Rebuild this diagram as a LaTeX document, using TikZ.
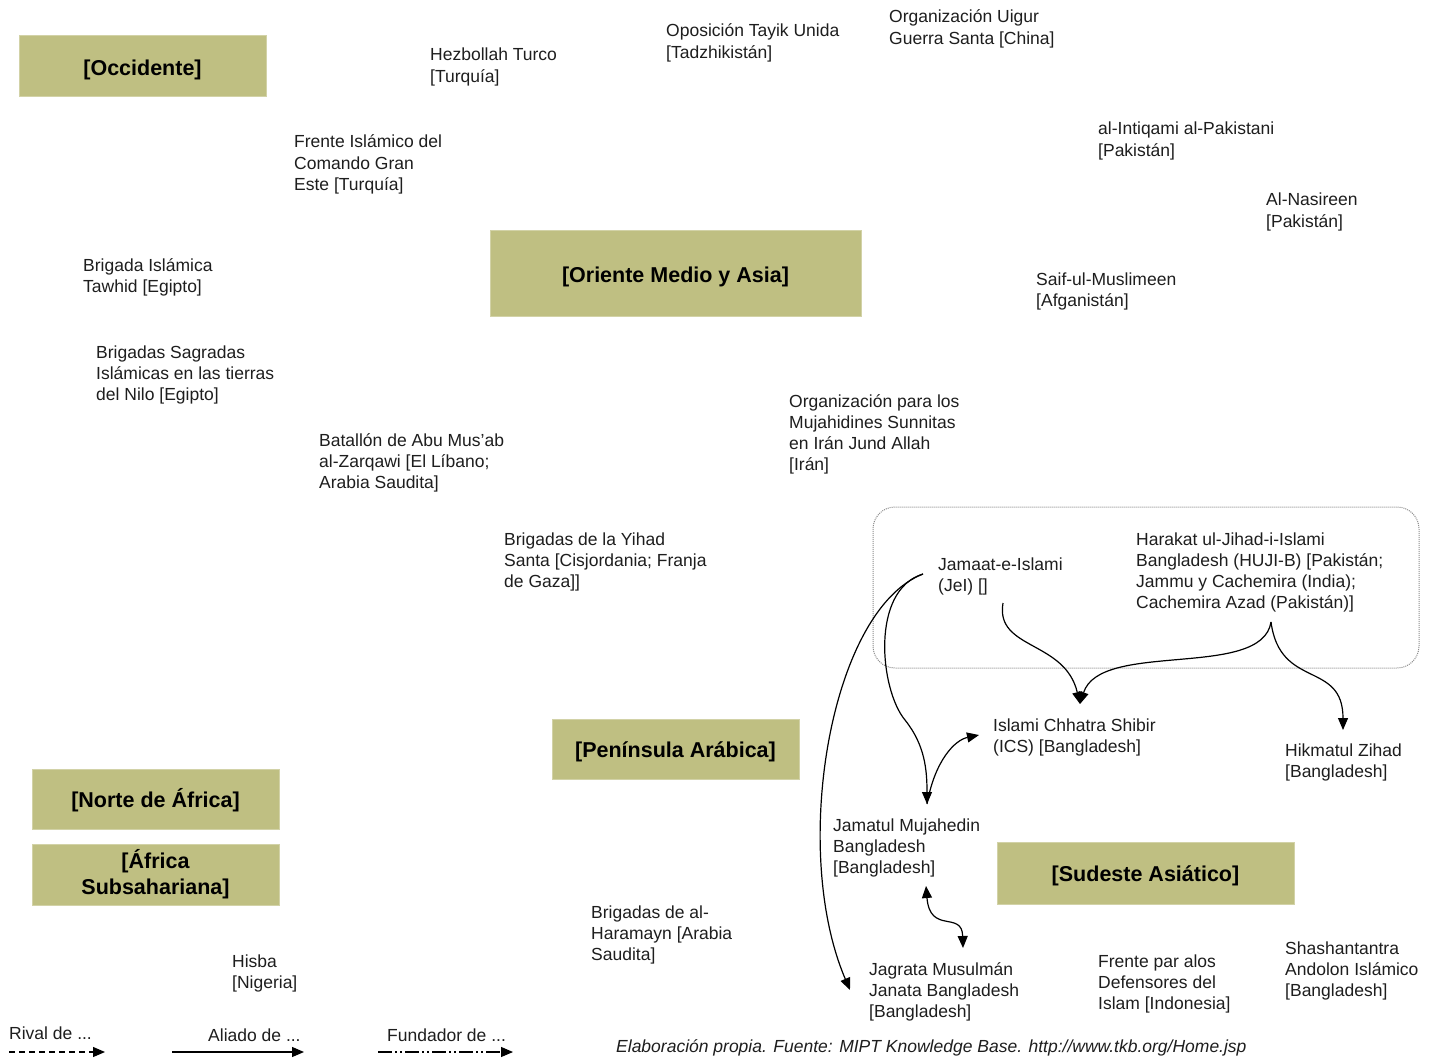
\documentclass[tikz,border=0pt]{standalone}
\usepackage{fontspec}
\setmainfont{Liberation Sans}
\usetikzlibrary{arrows.meta}
\definecolor{boxc}{RGB}{191,191,130}
\definecolor{txt}{RGB}{30,30,30}
\newcommand{\lowerby}[2]{\raisebox{-#1}[\height][\depth]{#2}}
\tikzset{
  region/.style={fill=boxc, draw=boxc!70!white, line width=1pt, font=\fontsize{21.5}{26}\selectfont\bfseries, text=black, align=center, inner sep=0},
  lbl/.style={anchor=base west, inner sep=0, align=left, font=\fontsize{17.5}{21.3}\selectfont, text=txt},
  ally/.style={line width=1.2pt, -{Triangle[length=12pt,width=10pt]}},
  rival/.style={line width=1.2pt, dashed, dash pattern=on 6pt off 4pt, -{Triangle[length=12pt,width=10pt]}},
  founder/.style={line width=1.2pt, dash pattern=on 14pt off 3pt on 2pt off 3pt on 2pt off 3pt, -{Triangle[length=12pt,width=10pt]}},
}
\begin{document}
\begin{tikzpicture}[x=1pt,y=-1pt]
\useasboundingbox[fill=white] (0,0) rectangle (1434,1059);
% region boxes
\node[region, minimum width=247pt, minimum height=61pt] (occ) at (142.5,66.5) {\lowerby{3pt}{[Occidente]}};
\node[region, minimum width=371pt, minimum height=85pt] (oma) at (675.5,273.5) {\lowerby{3pt}{[Oriente Medio y Asia]}};
\node[region, minimum width=247pt, minimum height=60pt] (pa) at (675.5,749) {\lowerby{3pt}{[Península Arábica]}};
\node[region, minimum width=247pt, minimum height=60pt] (nda) at (155.5,799) {\lowerby{1pt}{[Norte de África]}};
\node[region, minimum width=247pt, minimum height=61pt] (as) at (155.5,874.5) {[África\\Subsahariana]};
\node[region, minimum width=297pt, minimum height=62pt] (sea) at (1145.5,873) {\lowerby{3pt}{[Sudeste Asiático]}};
% dotted group
\draw[gray!90, densely dotted, line width=1pt, rounded corners=22pt] (873,507) rectangle (1419,668);
% labels (y = baseline of last line)
\node[lbl] (hezb) at (430,82.3) {Hezbollah Turco\\{}[Turquía]};
\node[lbl] (tayik) at (666,58.3) {Oposición Tayik Unida\\{}[Tadzhikistán]};
\node[lbl] (uigur) at (889,44.3) {Organización Uigur\\Guerra Santa [China]};
\node[lbl] (intiq) at (1098,156.3) {al-Intiqami al-Pakistani\\{}[Pakistán]};
\node[lbl] (nasir) at (1266,227.3) {Al-Nasireen\\{}[Pakistán]};
\node[lbl] (saif) at (1036,306.3) {Saif-ul-Muslimeen\\{}[Afganistán]};
\node[lbl] (frente) at (294,190.6) {Frente Islámico del\\Comando Gran\\Este [Turquía]};
\node[lbl] (tawhid) at (83,292.3) {Brigada Islámica\\Tawhid [Egipto]};
\node[lbl] (nilo) at (96,400.6) {Brigadas Sagradas\\Islámicas en las tierras\\del Nilo [Egipto]};
\node[lbl] (zarq) at (319,488.6) {Batallón de Abu Mus'ab\\al-Zarqawi [El Líbano;\\Arabia Saudita]};
\node[lbl] (jund) at (789,470.9) {Organización para los\\Mujahidines Sunnitas\\en Irán Jund Allah\\{}[Irán]};
\node[lbl] (yihad) at (504,587.6) {Brigadas de la Yihad\\Santa [Cisjordania; Franja\\de Gaza]]};
\node[lbl] (jei) at (938,591.3) {Jamaat-e-Islami\\(JeI) []};
\node[lbl] (huji) at (1136,608.9) {Harakat ul-Jihad-i-Islami\\Bangladesh (HUJI-B) [Pakistán;\\Jammu y Cachemira (India);\\Cachemira Azad (Pakistán)]};
\node[lbl] (ics) at (993,752.3) {Islami Chhatra Shibir\\(ICS) [Bangladesh]};
\node[lbl] (hikm) at (1285,777.3) {Hikmatul Zihad\\{}[Bangladesh]};
\node[lbl] (jmb) at (833,873.6) {Jamatul Mujahedin\\Bangladesh\\{}[Bangladesh]};
\node[lbl] (haram) at (591,960.6) {Brigadas de al-\\Haramayn [Arabia\\Saudita]};
\node[lbl] (hisba) at (232,988.3) {Hisba\\{}[Nigeria]};
\node[lbl] (jagr) at (869,1017.6) {Jagrata Musulmán\\Janata Bangladesh\\{}[Bangladesh]};
\node[lbl] (fpi) at (1098,1009.6) {Frente par alos\\Defensores del\\Islam [Indonesia]};
\node[lbl] (shasha) at (1285,996.6) {Shashantantra\\Andolon Islámico\\{}[Bangladesh]};
% legend
\node[lbl] (lrival) at (9,1039) {Rival de ...};
\node[lbl] (lally) at (208,1041) {Aliado de ...};
\node[lbl] (lfound) at (387,1041) {Fundador de ...};
\node[lbl, font=\fontsize{17.5}{21}\selectfont\itshape] (src) at (616,1052) {Elaboración propia. Fuente: MIPT Knowledge Base. http://www.tkb.org/Home.jsp};
\coordinate (r1) at (9,1052); \coordinate (r2) at (105,1052);
\coordinate (a1) at (172,1052); \coordinate (a2) at (304,1052);
\coordinate (f1) at (378,1052); \coordinate (f2) at (513,1052);
\draw[rival] (r1) -- (r2);
\draw[ally] (a1) -- (a2);
\draw[founder] (f1) -- (f2);
% connector endpoints
\coordinate (jeiW) at (923,574);
\coordinate (jeiS) at (1003,603);
\coordinate (hujiS) at (1271,622);
\coordinate (icsN) at (1080,704);
\coordinate (icsW) at (979,735);
\coordinate (hikmN) at (1343,730);
\coordinate (jmbN) at (927,804);
\coordinate (jmbS) at (926,886);
\coordinate (jagrN) at (963,948);
\coordinate (jagrW) at (850,990);
% connectors
\draw[ally] (jeiW) .. controls (830,610) and (790,850) .. (jagrW);
\draw[ally] (jeiW) .. controls (870,590) and (880,690) .. (905,720) .. controls (925,745) and (927,770) .. (jmbN);
\draw[ally] (jmbN) .. controls (935,760) and (955,740) .. (icsW);
\draw[ally] (jeiS) .. controls (995,650) and (1065,640) .. (icsN);
\draw[ally] (hujiS) .. controls (1262,680) and (1100,640) .. (icsN);
\draw[ally] (hujiS) .. controls (1280,690) and (1343,660) .. (hikmN);
\draw[line width=1.2pt, {Triangle[length=12pt,width=10pt]}-{Triangle[length=12pt,width=10pt]}] (jmbS) .. controls (930,935) and (962,910) .. (jagrN);
\end{tikzpicture}
\end{document}
